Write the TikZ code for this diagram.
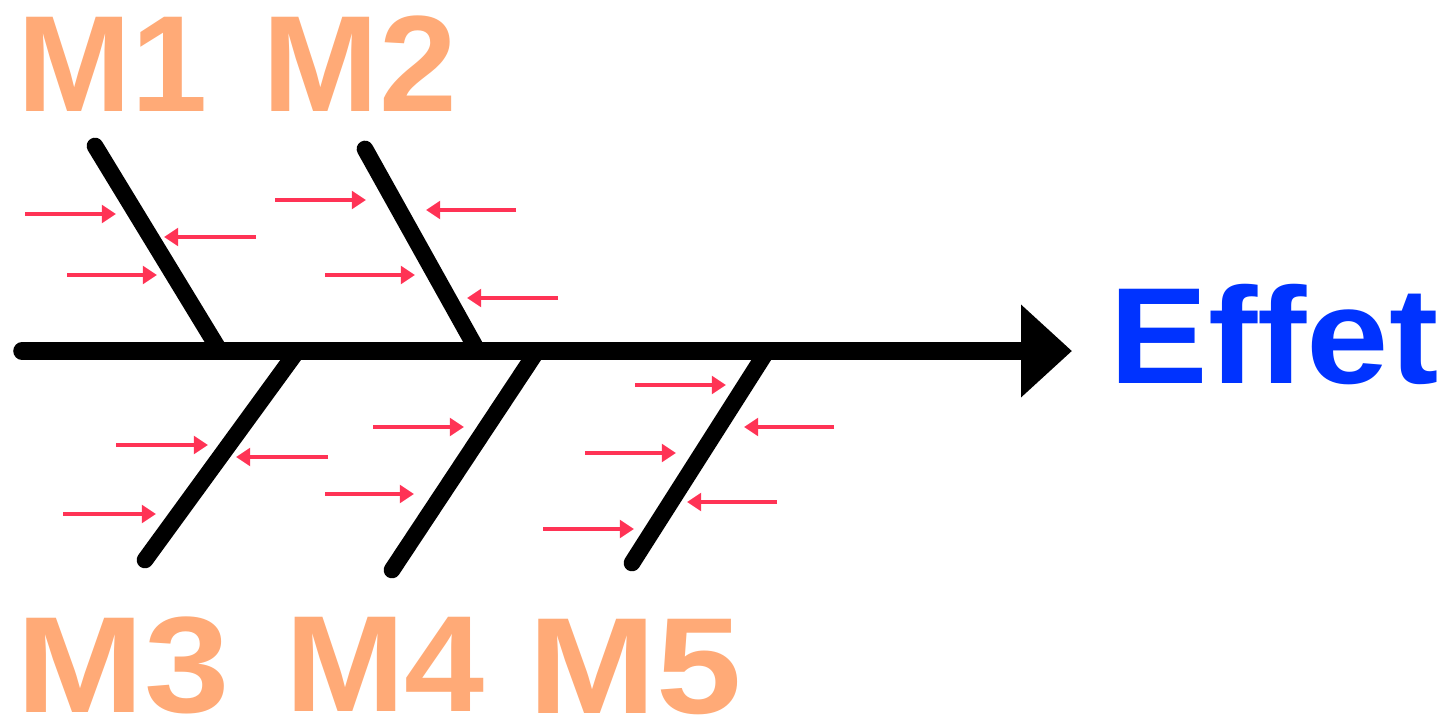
\documentclass[tikz,border=0pt]{standalone}
\usepackage{fontspec}
\setmainfont{Liberation Sans}
\usetikzlibrary{arrows.meta}
\definecolor{peach}{RGB}{255,170,119}
\definecolor{effblue}{RGB}{0,51,255}
\definecolor{causered}{RGB}{255,51,85}
\begin{document}
\begin{tikzpicture}[x=0.02cm,y=-0.02cm,
  bone/.style={line width=9.5pt,line cap=round,black},
  spine/.style={line width=10pt,line cap=round,black,-{Triangle[length=29pt,width=51pt]}},
  cause/.style={line width=1.9pt,causered,-{Triangle[length=8pt,width=10pt]}},
  mlabel/.style={inner sep=0pt,anchor=base,text=peach,font=\fontsize{78}{80}\selectfont\bfseries},
  elabel/.style={inner sep=0pt,anchor=base,text=effblue,font=\fontsize{78}{80}\selectfont\bfseries}]
\useasboundingbox (0,0) rectangle (1448,720);
% labels
\node[mlabel] (m1) at (113,111) {M1};
\node[mlabel,xscale=1.02] (m2) at (360,111) {M2};
\node[mlabel,xscale=1.12] (m3) at (123,712) {M3};
\node[mlabel,xscale=1.05] (m4) at (385,711) {M4};
\node[mlabel,xscale=1.12] (m5) at (635,713) {M5};
\node[elabel,xscale=1.08] (eff) at (1274,383) {Effet};
% spine
\coordinate (tail) at (22,351);
\coordinate (head) at (1072,351);
\draw[spine] (tail) -- (head);
% bones
\coordinate (b1s) at (95,146);  \coordinate (b1e) at (218,348);
\coordinate (b2s) at (365,149); \coordinate (b2e) at (476,348);
\coordinate (b3s) at (145,560); \coordinate (b3e) at (295,354);
\coordinate (b4s) at (392,570); \coordinate (b4e) at (535,354);
\coordinate (b5s) at (632,563); \coordinate (b5e) at (765,354);
\draw[bone] (b1s) -- (b1e);
\draw[bone] (b2s) -- (b2e);
\draw[bone] (b3s) -- (b3e);
\draw[bone] (b4s) -- (b4e);
\draw[bone] (b5s) -- (b5e);
% causes M1
\draw[cause] (25,214) -- (116,214);
\draw[cause] (256,237) -- (164,237);
\draw[cause] (67,275) -- (157,275);
% causes M2
\draw[cause] (275,200) -- (366,200);
\draw[cause] (516,210) -- (426,210);
\draw[cause] (325,275) -- (415,275);
\draw[cause] (558,298) -- (467,298);
% causes M3
\draw[cause] (116,445) -- (208,445);
\draw[cause] (328,457) -- (236,457);
\draw[cause] (63,514) -- (156,514);
% causes M4
\draw[cause] (373,427) -- (464,427);
\draw[cause] (325,494) -- (414,494);
% causes M5
\draw[cause] (635,385) -- (726,385);
\draw[cause] (834,427) -- (744,427);
\draw[cause] (585,453) -- (676,453);
\draw[cause] (777,502) -- (687,502);
\draw[cause] (543,529) -- (634,529);
\end{tikzpicture}
\end{document}
